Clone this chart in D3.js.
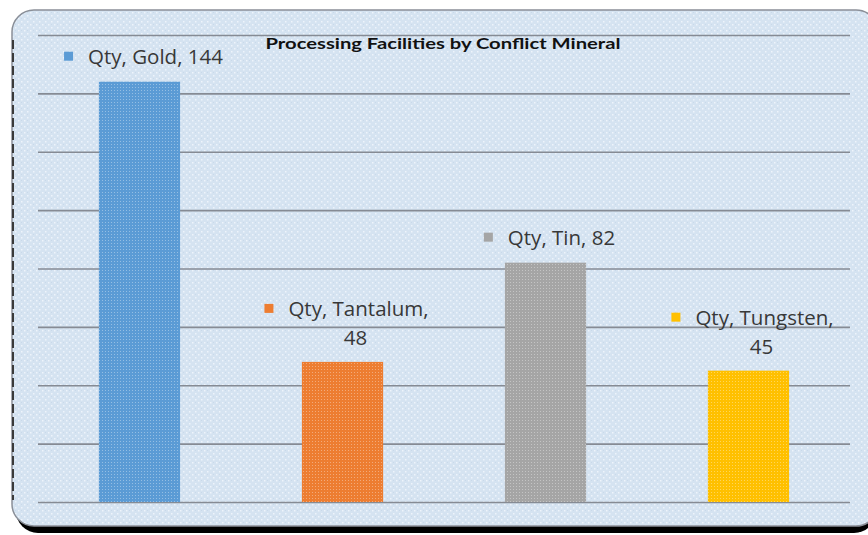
<!DOCTYPE html>
<html>
<head>
<meta charset="utf-8">
<script src="https://cdn.jsdelivr.net/npm/d3@7"></script>
<style>
  body { margin: 0; background: #ffffff; }
  svg { display: block; }
</style>
</head>
<body>
<svg id="chart" width="868" height="535"></svg>
<script>
// Chart data
var chart_title = 'Processing Facilities by Conflict Mineral'
var series_name = 'Qty'
var minerals = ['Gold', 'Tantalum', 'Tin', 'Tungsten']
var quantities = [144, 48, 82, 45]
var bar_colors = ['#5b9bd5', '#ed7d31', '#a5a5a5', '#ffc000']
var y_ticks = [0, 20, 40, 60, 80, 100, 120, 140, 160]
// label wraps onto two lines for some bars (as in the picture)
var label_wrap = [false, true, false, true]

var width = 868
var height = 535
var plot = {left: 38, right: 850, top: 35, bottom: 502}

var svg = d3.select('#chart')
var defs = svg.append('defs')

// Textured light blue background
var pat = defs.append('pattern')
  .attr('id', 'tex')
  .attr('patternUnits', 'userSpaceOnUse')
  .attr('width', 6)
  .attr('height', 6)
pat.append('rect').attr('width', 6).attr('height', 6).attr('fill', '#d5e3f1')
pat.append('rect').attr('x', 0).attr('y', 0).attr('width', 1.5).attr('height', 1.5).attr('fill', '#eef4fb')
pat.append('rect').attr('x', 3).attr('y', 3).attr('width', 1.5).attr('height', 1.5).attr('fill', '#eef4fb')
pat.append('rect').attr('x', 3).attr('y', 0).attr('width', 1).attr('height', 1).attr('fill', '#c9d9ea')

var dots = defs.append('pattern')
  .attr('id', 'dots')
  .attr('patternUnits', 'userSpaceOnUse')
  .attr('width', 3)
  .attr('height', 3)
dots.append('rect').attr('width', 1).attr('height', 1).attr('fill', '#ffffff').attr('opacity', 0.35)

// Shadow under the box
svg.append('rect')
  .attr('x', 16)
  .attr('y', 16)
  .attr('width', 860)
  .attr('height', 517)
  .attr('rx', 22)
  .attr('fill', '#000000')

// Box
svg.append('rect')
  .attr('x', 12)
  .attr('y', 10)
  .attr('width', 866)
  .attr('height', 516)
  .attr('rx', 22)
  .attr('fill', 'url(#tex)')
  .attr('stroke', '#8a8f98')
  .attr('stroke-width', 1.5)

svg.append('path')
  .attr('d', 'M13,40 L13,500')
  .attr('stroke', '#3a3a3a')
  .attr('stroke-width', 2)
  .attr('stroke-dasharray', '9,4')

// Scales
var x = d3.scaleBand()
  .domain(minerals)
  .range([plot.left, plot.right])
  .paddingInner(0.6)
  .paddingOuter(0.3)

var y = d3.scaleLinear()
  .domain([0, 160])
  .range([plot.bottom, plot.top])

// Gridlines
var grid = svg.append('g')
  .call(d3.axisLeft(y).tickValues(y_ticks).tickSize(-(plot.right - plot.left)).tickFormat(''))
  .attr('transform', 'translate(' + plot.left + ',0)')
grid.select('.domain').remove()
grid.selectAll('.tick line')
  .attr('stroke', '#868b94')
  .attr('stroke-width', 1.6)

// Bars
svg.append('g')
  .selectAll('rect')
  .data(minerals)
  .join('rect')
  .attr('x', d => x(d))
  .attr('y', (d, i) => y(quantities[i]))
  .attr('width', x.bandwidth())
  .attr('height', (d, i) => y(0) - y(quantities[i]))
  .attr('fill', (d, i) => bar_colors[i])

svg.append('g')
  .selectAll('rect')
  .data(minerals)
  .join('rect')
  .attr('x', d => x(d))
  .attr('y', (d, i) => y(quantities[i]))
  .attr('width', x.bandwidth())
  .attr('height', (d, i) => y(0) - y(quantities[i]))
  .attr('fill', 'url(#dots)')

// Data labels
var font = '"Open Sans", Lato, sans-serif'
minerals.forEach((m, i) => {
  var cx = x(m) + x.bandwidth() / 2
  var top = y(quantities[i])
  var g = svg.append('g')
  var line1, line2 = null
  if (label_wrap[i]) {
    line1 = series_name + ', ' + m + ','
    line2 = String(quantities[i])
  } else {
    line1 = series_name + ', ' + m + ', ' + quantities[i]
  }
  var base1 = line2 ? top - 46 : top - 18
  var t1 = g.append('text')
    .attr('x', cx + 16)
    .attr('y', base1)
    .attr('text-anchor', 'middle')
    .attr('font-family', font)
    .attr('font-size', 20.5)
    .attr('fill', '#383838')
    .text(line1)
  var w = t1.node().getComputedTextLength()
  g.append('rect')
    .attr('x', cx + 16 - w / 2 - 24)
    .attr('y', base1 - 12)
    .attr('width', 9)
    .attr('height', 9)
    .attr('fill', bar_colors[i])
  if (line2) {
    g.append('text')
      .attr('x', cx + 13)
      .attr('y', top - 17)
      .attr('text-anchor', 'middle')
      .attr('font-family', font)
      .attr('font-size', 20.5)
      .attr('fill', '#383838')
      .text(line2)
  }
})

// Title
svg.append('text')
  .attr('x', 443)
  .attr('y', 49)
  .attr('text-anchor', 'middle')
  .attr('font-family', 'Lato, sans-serif')
  .attr('font-weight', 'bold')
  .attr('font-size', 16)
  .attr('fill', '#111111')
  .attr('textLength', 355)
  .attr('lengthAdjust', 'spacingAndGlyphs')
  .text(chart_title)
</script>
</body>
</html>
